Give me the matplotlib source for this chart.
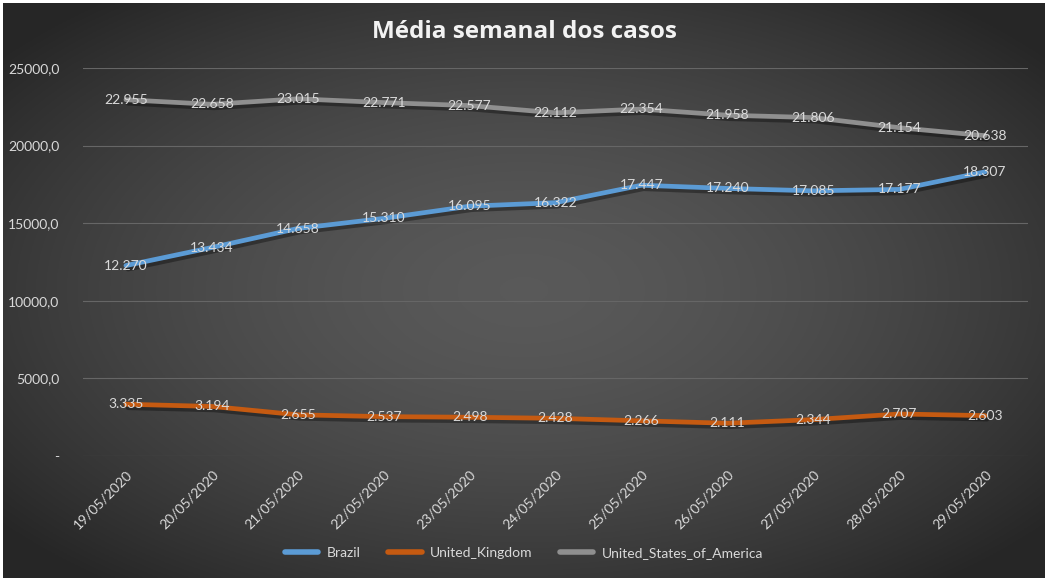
import matplotlib.pyplot as plt
import matplotlib.patheffects as pe
import numpy as np

# data
dates = ['19/05/2020', '20/05/2020', '21/05/2020', '22/05/2020', '23/05/2020',
         '24/05/2020', '25/05/2020', '26/05/2020', '27/05/2020', '28/05/2020',
         '29/05/2020']
brazil = [12270, 13434, 14658, 15310, 16095, 16322, 17447, 17240, 17085, 17177, 18307]
united_kingdom = [3335, 3194, 2655, 2537, 2498, 2428, 2266, 2111, 2344, 2707, 2603]
usa = [22955, 22658, 23015, 22771, 22577, 22112, 22354, 21958, 21806, 21154, 20638]
y_ticks = [0, 5000, 10000, 15000, 20000, 25000]

series = [
    ('Brazil', brazil, '#5b9bd5'),
    ('United_Kingdom', united_kingdom, '#c55a11'),
    ('United_States_of_America', usa, '#8f8f8f'),
]

text_color = '#d9d9d9'
plt.rcParams['font.family'] = ['Lato', 'DejaVu Sans']

W, H = 1045, 581
fig = plt.figure(figsize=(W / 100, H / 100), dpi=100, facecolor='white')

# excel-like dark radial gradient for the chart area
bg = fig.add_axes([3 / W, 3 / H, 1 - 3 / W, 1 - 6 / H], zorder=0)
yy, xx = np.mgrid[0:1:300j, 0:1:540j]
d = np.sqrt(((xx - 0.5) / 0.65) ** 2 + ((yy - 0.5) / 0.65) ** 2)
d = np.clip(d, 0, 1)
val = 0.35 - (0.35 - 0.15) * d ** 1.6
bg.imshow(np.dstack([val, val, val]), aspect='auto', extent=[0, 1, 0, 1])
bg.axis('off')

# plot area
ax = fig.add_axes([83 / W, (H - 456) / H, 945 / W, 388 / H], zorder=1)
ax.patch.set_alpha(0)
x = np.arange(len(dates))

for name, vals, color in series:
    ax.plot(x, vals, color=color, lw=3.4, label=name, solid_capstyle='round',
            path_effects=[pe.SimpleLineShadow(offset=(1.5, -2.5), shadow_color='black', alpha=0.35),
                          pe.Normal()])
    for xi, v in zip(x, vals):
        ax.text(xi, v, f'{v:,}'.replace(',', '.'), ha='center', va='center',
                color=text_color, fontsize=10, zorder=5)

ax.set_xlim(-0.5, len(dates) - 0.5)
ax.set_ylim(0, 25000)
ax.set_yticks(y_ticks)
ax.set_yticklabels(['-' if t == 0 else f'{t},0' for t in y_ticks])
ax.set_xticks(x)
ax.set_xticklabels(dates, rotation=45, ha='right', rotation_mode='anchor')
ax.grid(axis='y', color='#666666', lw=0.8)
ax.set_axisbelow(True)
for s in ax.spines.values():
    s.set_visible(False)
ax.tick_params(axis='both', length=0, colors=text_color, labelsize=10)
ax.tick_params(axis='y', pad=17)
ax.tick_params(axis='x', pad=9)

fig.text(524 / W, 1 - 32 / H, 'Média semanal dos casos', ha='center', va='center',
         color='#f2f2f2', fontsize=17.5, fontweight='bold', family=['Open Sans', 'DejaVu Sans'])

leg = fig.legend(loc='center', bbox_to_anchor=(524 / W, 1 - 553 / H), ncol=3, frameon=False,
                 fontsize=10, handlelength=2.4, columnspacing=2.0, handletextpad=0.6)
for t in leg.get_texts():
    t.set_color(text_color)
for h in leg.get_lines():
    h.set_path_effects([])
    h.set_linewidth(4)

fig.savefig('out.png', dpi=100, facecolor='white')
